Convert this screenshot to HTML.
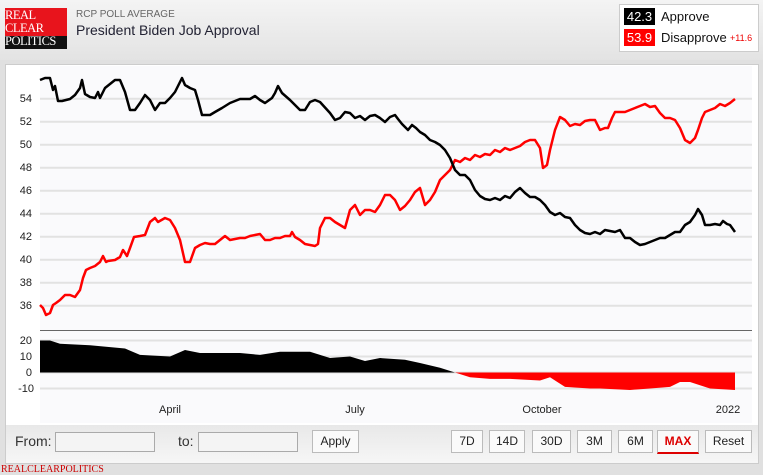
<!DOCTYPE html>
<html><head><meta charset="utf-8"><style>
body{margin:0;width:763px;height:475px;background:#e0e0e0;font-family:"Liberation Sans",Arial,sans-serif;position:relative;overflow:hidden}
.hdr{position:absolute;left:0;top:0;width:763px;height:60px;background:linear-gradient(#f4f4f4,#e3e3e3)}
.btn{position:absolute;top:430px;height:21px;border:1px solid #bbb;background:#fafafa;font-size:12px;line-height:21px;text-align:center;color:#222}
.inp{position:absolute;top:432px;height:18px;width:98px;border:1px solid #aaa;background:#f4f4f4}
</style></head><body>
<div class="hdr"></div>
<div style="position:absolute;left:5px;top:8px;width:62px;height:41px;background:#e8141c"></div>
<div style="position:absolute;left:5px;top:36px;width:62px;height:13px;background:#111"></div>
<div style="position:absolute;left:5px;top:9px;font-family:'Liberation Serif',serif;font-size:12.5px;line-height:13px;letter-spacing:-0.5px;color:#fff">REAL<br>CLEAR<br>POLITICS</div>
<div style="position:absolute;left:76px;top:9px;font-size:10px;color:#666">RCP POLL AVERAGE</div>
<div style="position:absolute;left:76px;top:22px;font-size:14px;color:#223">President Biden Job Approval</div>
<div style="position:absolute;left:619px;top:4px;width:138px;height:46px;background:#fff;border:1px solid #ccc"></div>
<div style="position:absolute;left:624px;top:8px;width:31px;height:17px;background:#000;color:#fff;font-size:13px;line-height:17px;text-align:center">42.3</div>
<div style="position:absolute;left:661px;top:9px;font-size:13px;color:#111">Approve</div>
<div style="position:absolute;left:624px;top:29px;width:31px;height:17px;background:#f00;color:#fff;font-size:13px;line-height:17px;text-align:center">53.9</div>
<div style="position:absolute;left:661px;top:30px;font-size:13px;color:#111">Disapprove</div>
<div style="position:absolute;left:730px;top:33px;font-size:9px;color:#e00">+11.6</div>
<div style="position:absolute;left:5px;top:64px;width:752px;height:360px;background:#fff;border:1px solid #ccc"></div>
<svg style="position:absolute;left:0;top:0" width="763" height="475">
<rect x="40" y="66" width="712" height="357" fill="#fafafc"/>
<g stroke="#e2e2e2" stroke-width="2">
<line x1="40" x2="752" y1="98.7" y2="98.7"/><line x1="40" x2="752" y1="121.7" y2="121.7"/><line x1="40" x2="752" y1="144.7" y2="144.7"/><line x1="40" x2="752" y1="167.7" y2="167.7"/><line x1="40" x2="752" y1="190.7" y2="190.7"/><line x1="40" x2="752" y1="213.7" y2="213.7"/><line x1="40" x2="752" y1="236.7" y2="236.7"/><line x1="40" x2="752" y1="259.7" y2="259.7"/><line x1="40" x2="752" y1="282.7" y2="282.7"/><line x1="40" x2="752" y1="305.7" y2="305.7"/>
<line x1="40" x2="752" y1="340.5" y2="340.5"/><line x1="40" x2="752" y1="356.5" y2="356.5"/><line x1="40" x2="752" y1="372.5" y2="372.5"/><line x1="40" x2="752" y1="388.5" y2="388.5"/>
</g>
<line x1="40" x2="752" y1="330.5" y2="330.5" stroke="#666" stroke-width="1"/>
<g font-size="11" fill="#222" text-anchor="end">
<text x="32" y="102">54</text><text x="32" y="125">52</text><text x="32" y="148">50</text><text x="32" y="171">48</text><text x="32" y="194">46</text><text x="32" y="217">44</text><text x="32" y="240">42</text><text x="32" y="263">40</text><text x="32" y="286">38</text><text x="32" y="309">36</text>
<text x="32" y="344">20</text><text x="32" y="360">10</text><text x="32" y="376">0</text><text x="34" y="392">-10</text>
</g>
<g font-size="11" fill="#222" text-anchor="middle">
<text x="170" y="413">April</text><text x="355" y="413">July</text><text x="542" y="413">October</text><text x="728" y="413">2022</text>
</g>
<polygon fill="#000" points="40,372.5 40,340.5 50,340.5 60,343.7 90,345.3 125,348.5 140,354.9 170,356.5 185,350 200,353 240,353 260,354.9 280,351.7 310,351.7 330,358 350,356.5 365,361 380,358 405,359.7 420,363 440,367.7 455,372.5"/>
<polygon fill="#f00" points="455,372.5 470,377.3 490,378.9 510,378.9 540,380.5 550,377.3 565,386.9 590,388.5 600,388.5 630,390 650,388.5 670,386.9 680,382 690,382 710,388.5 735,390 735,372.5"/>
<polyline fill="none" stroke="#f00" stroke-width="2.5" stroke-linejoin="round" points="40,305 43,308 46,315 50,313 53,305 56,303 60,300 65,295 70,295 75,297 80,290 83,278 86,270 90,268 95,266 100,262 103,256 106,262 108,261 115,260 120,257 123,250 127,256 130,248 134,237 140,236 145,235 150,222 155,218 158,222 165,218 170,220 175,228 180,240 185,262 190,262 195,248 200,245 205,243 210,244 215,244 220,240 225,236 230,240 240,238 245,238 250,236 260,234 265,240 270,240 275,238 280,238 285,236 290,236 292,232 295,237 300,240 305,244 310,245 315,246 318,244 320,228 325,218 330,218 335,222 340,225 345,228 350,210 355,205 360,215 365,210 370,210 375,212 380,205 385,195 390,195 395,200 400,210 405,206 410,200 415,192 420,188 425,205 430,200 435,192 440,180 445,175 450,170 455,160 460,162 465,158 470,160 475,155 480,157 485,154 490,155 495,150 500,152 505,148 510,150 515,148 520,146 525,142 530,140 535,140 540,148 543,168 547,165 550,150 555,130 560,117 565,120 570,126 575,124 580,125 585,121 590,120 595,120 600,130 605,128 608,128 612,118 615,112 620,112 625,112 630,110 635,108 640,106 645,104 650,107 655,106 660,113 665,118 670,118 675,120 680,128 685,140 690,143 695,138 698,130 702,118 705,112 710,110 715,108 720,104 725,106 730,103 735,99"/>
<polyline fill="none" stroke="#000" stroke-width="2.5" stroke-linejoin="round" points="40,80 45,78 50,78 53,90 55,86 58,101 62,101 70,99 75,95 80,88 82,80 85,94 90,97 95,98 98,92 100,98 105,88 110,84 115,80 120,80 125,92 130,110 135,110 140,103 145,95 150,100 155,110 160,103 165,103 170,98 175,92 182,78 185,85 190,88 195,90 198,100 202,115 210,115 215,112 222,108 230,103 240,99 250,99 255,96 260,100 265,103 272,98 275,93 278,86 282,93 290,100 295,105 300,110 305,110 310,102 315,100 320,102 330,113 335,120 340,118 345,112 350,113 355,118 360,116 365,120 370,116 375,115 380,118 385,122 390,117 395,115 398,119 402,124 408,130 412,125 416,128 420,132 425,135 430,140 435,142 440,145 445,150 450,158 455,170 460,175 465,175 470,180 475,190 480,196 485,199 490,200 495,198 500,200 505,196 510,198 515,192 520,188 525,193 530,197 535,197 540,200 545,205 550,212 555,215 560,213 565,217 570,218 575,225 580,230 585,233 590,234 595,232 600,234 605,230 610,231 615,232 620,230 625,238 630,238 635,242 640,245 645,244 650,242 655,240 660,238 665,238 670,235 675,232 680,232 685,225 690,222 695,215 698,209 702,215 705,225 710,225 715,224 720,225 723,221 727,224 730,225 735,232"/>
</svg>
<div style="position:absolute;left:5px;top:425px;width:752px;height:38px;background:linear-gradient(#e8e8e8,#f6f6f6);border:1px solid #ccc;border-top:none"></div>
<div style="position:absolute;left:15px;top:433px;font-size:14px;color:#333">From:</div>
<div class="inp" style="left:55px"></div>
<div style="position:absolute;left:178px;top:433px;font-size:14px;color:#333">to:</div>
<div class="inp" style="left:198px"></div>
<div class="btn" style="left:312px;width:45px">Apply</div>
<div class="btn" style="left:451px;width:30px">7D</div>
<div class="btn" style="left:489px;width:34px">14D</div>
<div class="btn" style="left:532px;width:37px">30D</div>
<div class="btn" style="left:577px;width:33px">3M</div>
<div class="btn" style="left:618px;width:33px">6M</div>
<div class="btn" style="left:657px;width:40px;color:#d00;font-weight:bold;border-bottom:2px solid #d00">MAX</div>
<div class="btn" style="left:705px;width:45px">Reset</div>
<div style="position:absolute;left:1px;top:464px;font-family:'Liberation Serif',serif;font-size:10px;color:#c00">REALCLEARPOLITICS</div>
</body></html>
